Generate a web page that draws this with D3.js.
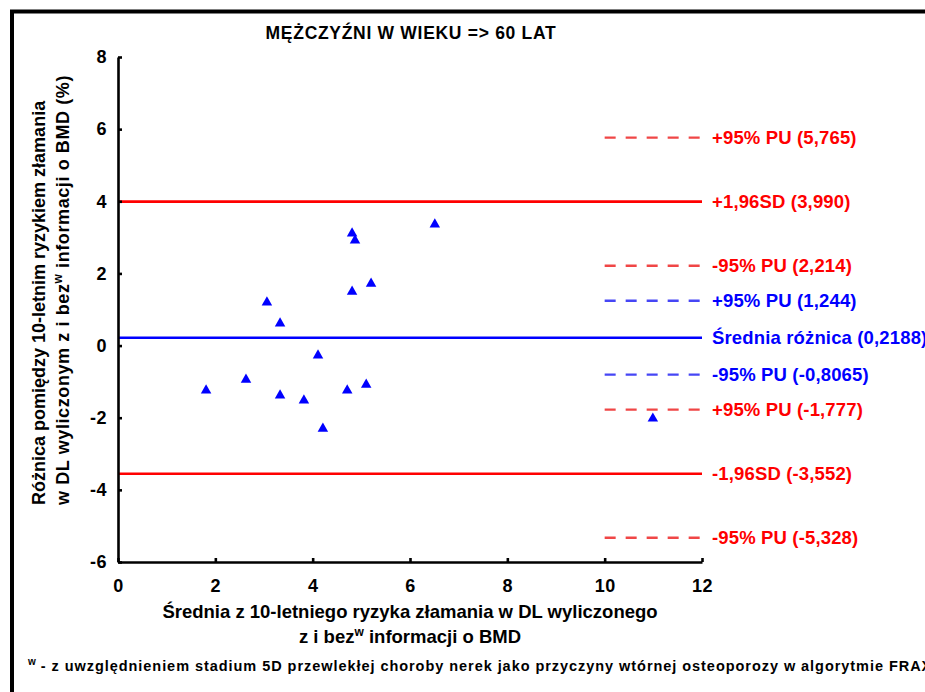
<!DOCTYPE html>
<html>
<head>
<meta charset="utf-8">
<script src="https://cdn.jsdelivr.net/npm/d3@7"></script>
<style>
  html, body { margin: 0; padding: 0; background: #fff; }
  svg text { font-family: "Liberation Sans", Arial, Helvetica, sans-serif; font-weight: bold; }
</style>
</head>
<body>
<svg id="chart" width="925" height="692"></svg>
<script>
// Mean of the two 10-year fracture risks (x) and their difference (y), one value per patient
const meanRisk = [6.51, 4.81, 4.87, 5.20, 4.81, 3.06, 3.33, 4.11, 2.63, 1.81, 3.33, 3.82, 4.71, 5.10, 4.21, 10.99];
const riskDiff = [3.40, 3.15, 2.96, 1.76, 1.54, 1.24, 0.66, -0.23, -0.90, -1.20, -1.34, -1.48, -1.20, -1.04, -2.26, -1.98];

// Bland-Altman reference lines: mean difference, limits of agreement and their 95% bounds
const limitNames  = ["+95% PU", "+1,96SD", "-95% PU", "+95% PU", "Średnia różnica", "-95% PU", "+95% PU", "-1,96SD", "-95% PU"];
const limitValues = ["5,765", "3,990", "2,214", "1,244", "0,2188", "-0,8065", "-1,777", "-3,552", "-5,328"];
const limitGroup  = ["upper", "upper", "upper", "mean", "mean", "mean", "lower", "lower", "lower"];
const limitKind   = ["bound", "estimate", "bound", "bound", "estimate", "bound", "bound", "estimate", "bound"];

// Axis ticks
const xTicks = [0, 2, 4, 6, 8, 10, 12];
const yTicks = [-6, -4, -2, 0, 2, 4, 6, 8];

const titleText = "MĘŻCZYŹNI W WIEKU => 60 LAT";
const footnoteText = " - z uwzględnieniem stadium 5D przewlekłej choroby nerek jako przyczyny wtórnej osteoporozy w algorytmie FRAX";

const toNumber = s => +s.replace(",", ".");

const svg = d3.select("#chart");

const x = d3.scaleLinear().domain([0, 12]).range([118, 702]);
const y = d3.scaleLinear().domain([-6, 8]).range([562, 57]);

// Outer frame (left and top edges)
svg.append("path")
  .attr("d", "M12,692 V11.5 H925")
  .attr("fill", "none")
  .attr("stroke", "#000")
  .attr("stroke-width", 4);

// Title
svg.append("text")
  .attr("x", 411).attr("y", 39)
  .attr("text-anchor", "middle")
  .attr("font-size", 17.5)
  .attr("letter-spacing", 0.7)
  .text(titleText);

// Reference lines
const lines = limitNames.map((name, i) => ({
  name, label: limitValues[i], value: toNumber(limitValues[i]),
  group: limitGroup[i], kind: limitKind[i]
}));
const lineColor = d => d.group === "mean"
  ? (d.kind === "estimate" ? "#0000ff" : "#4646f5")
  : (d.kind === "estimate" ? "#ff0000" : "#f04646");
const textColor = d => d.group === "mean" ? "#0000ff" : "#ff0000";

svg.append("g").selectAll("line")
  .data(lines)
  .join("line")
  .attr("x1", d => d.kind === "estimate" ? x(0) : x(10))
  .attr("x2", x(12))
  .attr("y1", d => y(d.value))
  .attr("y2", d => y(d.value))
  .attr("stroke", lineColor)
  .attr("stroke-width", d => d.kind === "estimate" ? 2.6 : 2.4)
  .attr("stroke-dasharray", d => d.kind === "estimate" ? null : "11,10");

svg.append("g").selectAll("text")
  .data(lines)
  .join("text")
  .attr("x", x(12) + 10)
  .attr("y", d => y(d.value))
  .attr("dy", "0.36em")
  .attr("font-size", 18.5)
  .attr("letter-spacing", 0.15)
  .attr("fill", textColor)
  .text(d => `${d.name} (${d.label})`);

// Axes (plain hyphen-minus in tick labels)
const tickFmt = d => String(d);
const xAxis = svg.append("g")
  .attr("transform", `translate(0,${y(-6)})`)
  .call(d3.axisBottom(x).tickValues(xTicks).tickFormat(tickFmt).tickSize(-4).tickSizeOuter(0).tickPadding(17));
const yAxis = svg.append("g")
  .attr("transform", `translate(${x(0)},0)`)
  .call(d3.axisLeft(y).tickValues(yTicks).tickFormat(tickFmt).tickSize(-4).tickSizeOuter(0).tickPadding(11));
[xAxis, yAxis].forEach(g => {
  g.selectAll("path.domain").attr("stroke", "#000").attr("stroke-width", 2.6);
  g.selectAll(".tick line").attr("stroke", "#000").attr("stroke-width", 2.6);
  g.selectAll(".tick text")
    .attr("fill", "#000")
    .attr("font-size", 18)
    .attr("letter-spacing", 0.5)
    .attr("font-family", "Liberation Sans, Arial, sans-serif")
    .attr("font-weight", "bold");
});

// Data points: blue triangles centred on their bounding box
const triangle = {
  draw(ctx, size) {
    const w = Math.sqrt(size * 2.2), h = w * 0.88;
    ctx.moveTo(0, -h / 2);
    ctx.lineTo(w / 2, h / 2);
    ctx.lineTo(-w / 2, h / 2);
    ctx.closePath();
  }
};
svg.append("g").selectAll("path")
  .data(meanRisk.map((m, i) => [m, riskDiff[i]]))
  .join("path")
  .attr("transform", d => `translate(${x(d[0])},${y(d[1])})`)
  .attr("d", d3.symbol(triangle, 50))
  .attr("fill", "#0000ff");

// Y axis title (two lines, bottom-aligned)
const yTitle = svg.append("g").attr("font-size", 18);
yTitle.append("text")
  .attr("transform", "rotate(-90)")
  .attr("x", -505).attr("y", 45)
  .text("Różnica pomiędzy 10-letnim ryzykiem złamania");
const yLine2 = yTitle.append("text")
  .attr("transform", "rotate(-90)")
  .attr("x", -505).attr("y", 69)
  .attr("letter-spacing", 0.6);
yLine2.append("tspan").text("w DL wyliczonym z i bez");
yLine2.append("tspan").attr("dy", -7).attr("font-size", 12).text("w");
yLine2.append("tspan").attr("dy", 7).text(" informacji o BMD (%)");

// X axis title
const xTitle = svg.append("g").attr("font-size", 18.5).attr("text-anchor", "middle");
xTitle.append("text")
  .attr("x", 410).attr("y", 618)
  .text("Średnia z 10-letniego ryzyka złamania w DL wyliczonego");
const xLine2 = xTitle.append("text").attr("x", 410).attr("y", 643);
xLine2.append("tspan").text("z i bez");
xLine2.append("tspan").attr("dy", -7).attr("font-size", 12).text("w");
xLine2.append("tspan").attr("dy", 7).text(" informacji o BMD");

// Footnote
const foot = svg.append("text").attr("x", 28).attr("y", 671).attr("font-size", 14.5);
foot.append("tspan").attr("dy", -6).attr("font-size", 10).text("w");
foot.append("tspan").attr("dy", 6).attr("letter-spacing", 0.95).text(footnoteText);
</script>
</body>
</html>
